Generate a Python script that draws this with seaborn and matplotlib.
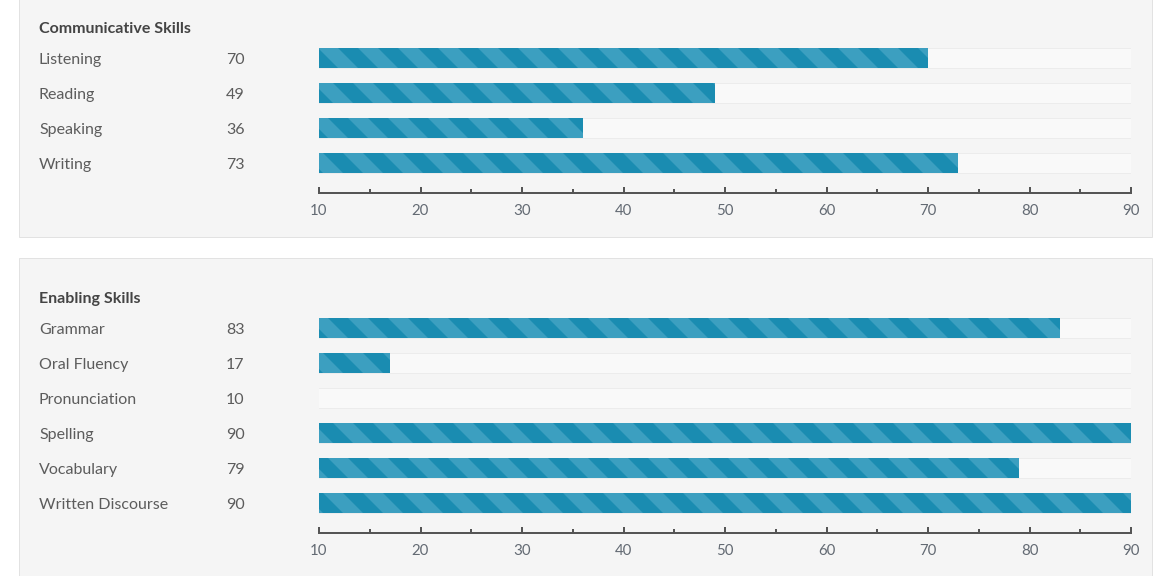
import numpy as np
import pandas as pd
import matplotlib
matplotlib.use("Agg")
import matplotlib.pyplot as plt
import matplotlib.transforms as mtransforms
from matplotlib.patches import Rectangle
import seaborn as sns

# Score report data
comm_title = "Communicative Skills"
comm_skills = ["Listening", "Reading", "Speaking", "Writing"]
comm_scores = [70, 49, 36, 73]

enab_title = "Enabling Skills"
enab_skills = ["Grammar", "Oral Fluency", "Pronunciation", "Spelling",
               "Vocabulary", "Written Discourse"]
enab_scores = [83, 17, 10, 90, 79, 90]

score_min, score_max = 10, 90
major_ticks = [10, 20, 30, 40, 50, 60, 70, 80, 90]
minor_ticks = [15, 25, 35, 45, 55, 65, 75, 85]

DPI = 120
W, H = 1160, 576
ROW = 35          # px between rows
BAR = 20          # px bar height
DARK = "#1a8cb1"
LIGHT = "#3c9fc0"


def px(n):
    # pixels -> points
    return n * 72 / DPI


def fx(x):
    return x / W


def fy(y):
    return 1 - y / H


sns.set_theme(style="white")
plt.rcParams["font.family"] = ["Lato", "DejaVu Sans"]
# hatch spacing is dpi/3 px horizontally -> 40px stripes period, half filled
plt.rcParams["hatch.linewidth"] = px(20 / np.sqrt(2))

fig = plt.figure(figsize=(W / DPI, H / DPI), dpi=DPI, facecolor="white")


def draw_panel(title, skills, scores, panel_top, panel_bottom, title_base, first_row):
    fig.add_artist(Rectangle((fx(19), fy(panel_bottom)), fx(1152 - 19),
                             (panel_bottom - panel_top) / H,
                             transform=fig.transFigure, facecolor="#f5f5f5",
                             edgecolor="#e2e2e2", lw=px(1), zorder=-1))
    fig.text(fx(39), fy(title_base), title, fontsize=px(16), weight="bold",
             color="#444444", ha="left", va="baseline")

    n = len(skills)
    axis_y = first_row + ROW * (n - 1) + 30
    ax_top = first_row - ROW / 2
    ax = fig.add_axes([fx(319), fy(axis_y), fx(1131 - 319), (axis_y - ax_top) / H])
    ax.set_facecolor("none")

    df = pd.DataFrame({"skill": skills, "score": scores, "track": [score_max] * n})
    sns.barplot(data=df, x="track", y="skill", orient="h", color="#f9f9f9",
                saturation=1, width=BAR / ROW, errorbar=None, ax=ax)
    sns.barplot(data=df, x="score", y="skill", orient="h", color=DARK,
                saturation=1, width=BAR / ROW, errorbar=None, ax=ax)
    for p in ax.patches[:n]:
        p.set_edgecolor("#ececec")
        p.set_linewidth(px(1))
    for p in ax.patches[n:]:
        p.set_facecolor(DARK)
        p.set_hatch("\\")
        p.set_edgecolor(LIGHT)
        p.set_linewidth(0)

    ax.set_xlim(score_min, score_max)
    ax.set_ylim(n - 1 + 30 / ROW, -0.5)
    ax.set_xlabel("")
    ax.set_ylabel("")
    ax.set_yticks([])
    for s in ["left", "top", "right"]:
        ax.spines[s].set_visible(False)
    ax.spines["bottom"].set_color("#555555")
    ax.spines["bottom"].set_linewidth(px(2))
    ax.set_xticks(major_ticks)
    ax.set_xticks(minor_ticks, minor=True)
    ax.tick_params(axis="x", which="both", bottom=True, direction="in",
                   width=px(2), color="#555555")
    ax.tick_params(axis="x", which="major", length=px(6), labelsize=px(15),
                   labelcolor="#636a73", pad=px(11))
    ax.tick_params(axis="x", which="minor", length=px(4))

    trans = mtransforms.blended_transform_factory(fig.transFigure, ax.transData) + \
        mtransforms.ScaledTranslation(0, -6 / DPI, fig.dpi_scale_trans)
    for i, (name, val) in enumerate(zip(skills, scores)):
        ax.text(fx(39), i, name, transform=trans, fontsize=px(16),
                color="#5c5c5c", ha="left", va="baseline")
        ax.text(fx(226), i, str(val), transform=trans, fontsize=px(16),
                color="#5c5c5c", ha="left", va="baseline")
    return ax


draw_panel(comm_title, comm_skills, comm_scores, -12, 237, 33, 58)
draw_panel(enab_title, enab_skills, enab_scores, 258, 600, 303, 328)

fig.savefig("out.png", dpi=DPI, facecolor="white")
